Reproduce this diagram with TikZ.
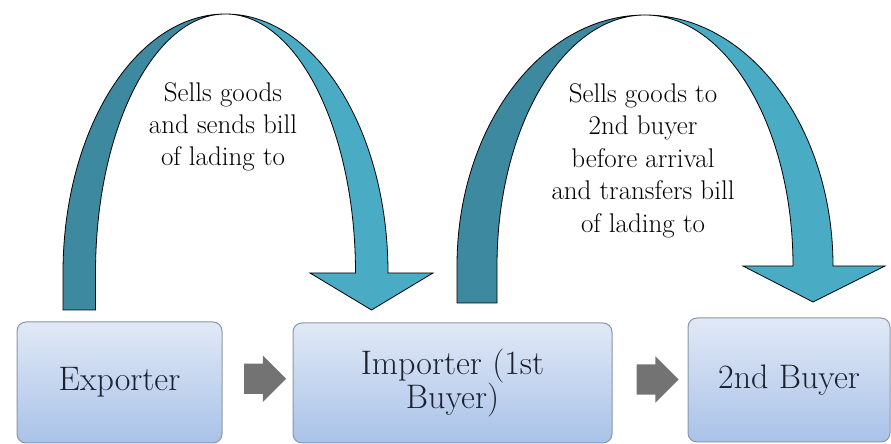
\documentclass[tikz,border=0pt]{standalone}
\usetikzlibrary{shapes.arrows, positioning, calc}

\definecolor{bandDark}{HTML}{3D8AA0}
\definecolor{bandLight}{HTML}{4AABC5}
\definecolor{boxTop}{HTML}{E1E9F6}
\definecolor{boxBottom}{HTML}{A9C2E8}
\definecolor{boxLine}{HTML}{8A96A6}
\definecolor{boxText}{HTML}{1C2230}

\begin{document}
\begin{tikzpicture}[x=1pt, y=1pt,
        party/.style={rectangle, rounded corners=9pt, draw=boxLine, line width=1pt, top color=boxTop, bottom color=boxBottom, font=\fontsize{34}{34}\selectfont, text=boxText, align=center},
        flow/.style={single arrow, fill=black!55, draw=none, minimum height=42pt, inner xsep=0pt, inner ysep=15pt, single arrow head extend=8pt},
        dark band/.style={fill=bandDark, draw=black, line width=0.8pt},
        light band/.style={fill=bandLight, draw=black, line width=0.8pt},
        note/.style={align=center, anchor=north, inner sep=0pt, text=black, font=\fontsize{27}{32}\selectfont}]
    \useasboundingbox (0,0) rectangle (891,444);

    \node[party, minimum width=205pt, minimum height=121pt] (exp) at (119.5,61.5) {Exporter};
    \node[party, minimum width=319pt, minimum height=120pt] (imp) at (452.5,61) {Importer (1st\\Buyer)};
    \node[party, minimum width=202pt, minimum height=124pt] (buy) at (789,64) {2nd Buyer};

    \node[flow, yshift=4pt] (f1) at ($(exp.east)!0.5!(imp.west)$) {};
    \node[flow, yshift=2pt] (f2) at ($(imp.east)!0.5!(buy.west)$) {};

    % first bent arrow
    \draw[dark band] (63,134) -- (63,171) arc[start angle=180, end angle=90, x radius=162.5, y radius=259]
        arc[start angle=90, end angle=180, x radius=130, y radius=259] -- (95.5,134) -- cycle;
    \draw[light band] (225.5,430) arc[start angle=90, end angle=0, x radius=162.5, y radius=259]
        -- (433,171) -- (371.5,134) -- (310,171) -- (355.5,171)
        arc[start angle=0, end angle=90, x radius=130, y radius=259] -- cycle;

    % second bent arrow
    \draw[dark band] (457,141) -- (457,178) arc[start angle=180, end angle=90, x radius=188, y radius=251]
        arc[start angle=90, end angle=180, x radius=148, y radius=251] -- (497,141) -- cycle;
    \draw[light band] (645,429) arc[start angle=90, end angle=0, x radius=188, y radius=251]
        -- (885,178) -- (813,142) -- (743,178) -- (793,178)
        arc[start angle=0, end angle=90, x radius=148, y radius=251] -- cycle;

    \node[note] (t1) at (223,362) {Sells goods\\and sends bill\\of lading to};
    \node[note, font=\fontsize{27}{32.5}\selectfont] (t2) at (643,361) {Sells goods to\\2nd buyer\\before arrival\\and transfers bill\\of lading to};
\end{tikzpicture}
\end{document}
